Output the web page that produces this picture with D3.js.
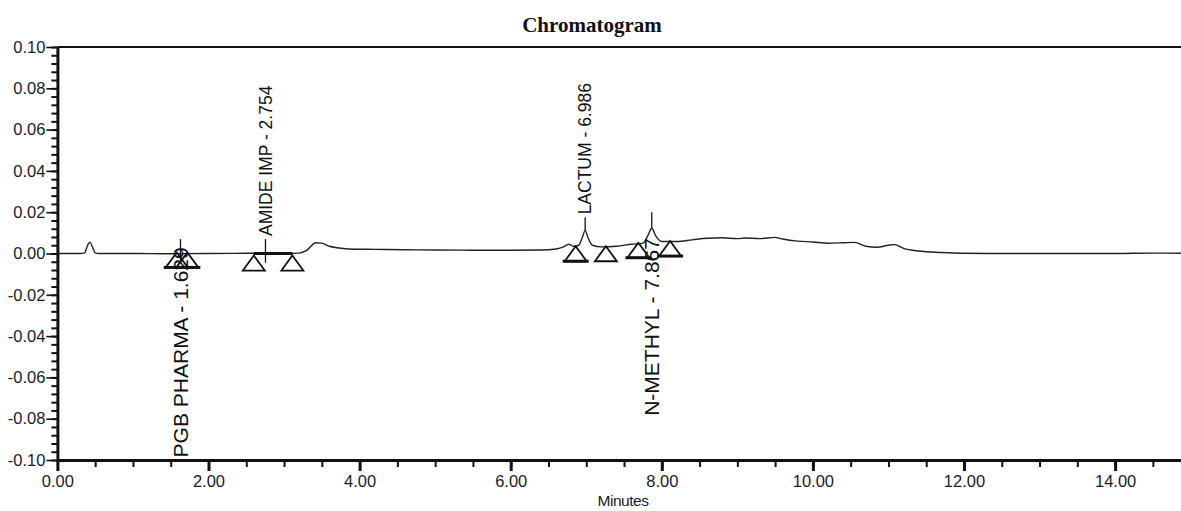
<!DOCTYPE html>
<html>
<head>
<meta charset="utf-8">
<script src="https://cdn.jsdelivr.net/npm/d3@7"></script>
<style>
  html, body { margin: 0; padding: 0; background: #fff; }
  svg { display: block; }
</style>
</head>
<body>
<svg id="chart" width="1181" height="511"></svg>
<script>
// ---------------- DATA ----------------
const traceTimes = [0.00, 0.30, 0.36, 0.40, 0.43, 0.46, 0.50, 0.55, 1.00, 1.50, 2.00, 2.50, 3.00, 3.20, 3.30, 3.42, 3.50, 3.60, 3.70, 3.85, 4.20, 4.60, 5.00, 5.50, 6.00, 6.40, 6.60, 6.70, 6.77, 6.83, 6.90, 6.95, 6.986, 7.02, 7.08, 7.20, 7.40, 7.60, 7.75, 7.82, 7.867, 7.92, 8.00, 8.20, 8.40, 8.60, 8.80, 9.00, 9.10, 9.30, 9.50, 9.60, 9.80, 10.00, 10.20, 10.40, 10.55, 10.70, 10.85, 11.00, 11.08, 11.20, 11.40, 11.70, 12.00, 12.50, 13.00, 14.00, 14.50, 15.00];
const traceValues = [0.0000, 0.0000, 0.0003, 0.0040, 0.0055, 0.0035, 0.0003, 0.0000, 0.0000, -0.0001, 0.0000, 0.0001, 0.0000, 0.0002, 0.0015, 0.0052, 0.0050, 0.0035, 0.0028, 0.0022, 0.0020, 0.0018, 0.0017, 0.0016, 0.0016, 0.0017, 0.0022, 0.0032, 0.0045, 0.0035, 0.0040, 0.0080, 0.0112, 0.0080, 0.0040, 0.0032, 0.0035, 0.0045, 0.0050, 0.0090, 0.0122, 0.0085, 0.0058, 0.0058, 0.0066, 0.0074, 0.0076, 0.0072, 0.0075, 0.0072, 0.0078, 0.0070, 0.0060, 0.0056, 0.0050, 0.0052, 0.0054, 0.0035, 0.0030, 0.0040, 0.0043, 0.0025, 0.0012, 0.0005, 0.0001, 0.0000, 0.0000, 0.0000, 0.0002, 0.0001];

// peaks
const peakNames = ["PGB PHARMA", "AMIDE IMP", "LACTUM", "N-METHYL"];
const peakTimes = [1.629, 2.754, 6.986, 7.867];
const peakLineTop = [0.0070, 0.0070, 0.0175, 0.0200];
const peakLineBottom = [-0.0045, -0.0045, 0.0112, 0.0122];
const peakLabelSide = ["below", "above", "above", "below"];

// start/end markers (triangles)
const markerTimes = [1.58, 1.72, 2.60, 3.11, 6.86, 7.26, 7.69, 8.11];
const markerValues = [0.0010, 0.0010, -0.0005, -0.0005, 0.0040, 0.0040, 0.0057, 0.0065];
const markerBold = [true, true, false, false, true, false, true, true];

// drawn baseline segment
const baselineSegTimes = [2.60, 3.11];
const baselineSegValues = [0.0000, 0.0000];

// axes
const yTicks = [-0.10, -0.08, -0.06, -0.04, -0.02, 0.00, 0.02, 0.04, 0.06, 0.08, 0.10];
const yTickLabels = ["-0.10", "-0.08", "-0.06", "-0.04", "-0.02", "0.00", "0.02", "0.04", "0.06", "0.08", "0.10"];
const xTicks = [0, 2, 4, 6, 8, 10, 12, 14];
const xTickLabels = ["0.00", "2.00", "4.00", "6.00", "8.00", "10.00", "12.00", "14.00"];
const titleText = "Chromatogram";
const xAxisTitle = "Minutes";

// ---------------- CHART ----------------
const svg = d3.select("#chart");
const plotLeft = 57.4, plotTop = 47, plotBottom = 460;
const x = d3.scaleLinear().domain([0, 15]).range([plotLeft, plotLeft + 15 * 75.55]);
const y = d3.scaleLinear().domain([-0.1, 0.1]).range([plotBottom, plotTop]);

const font = "Arial, 'Liberation Sans', sans-serif";
const ink = "#111";

// title
svg.append("text")
  .attr("x", 592).attr("y", 32)
  .attr("text-anchor", "middle")
  .attr("font-family", "'Liberation Serif', 'Times New Roman', serif")
  .attr("font-weight", "bold")
  .attr("font-size", 21)
  .attr("fill", "#111")
  .text(titleText);

// top frame line
svg.append("line")
  .attr("x1", x(0)).attr("x2", 1181)
  .attr("y1", y(0.1)).attr("y2", y(0.1))
  .attr("stroke", ink).attr("stroke-width", 2.2);

// minor ticks
const yMinor = d3.range(-0.1, 0.1001, 0.004).map(d => +d.toFixed(3));
const xMinor = d3.range(0, 15.01, 0.5).map(d => +d.toFixed(2));

const yMinorAxis = svg.append("g")
  .attr("transform", `translate(${x(0)},0)`)
  .call(d3.axisLeft(y).tickValues(yMinor).tickSize(6).tickFormat(""));
yMinorAxis.select(".domain").remove();
yMinorAxis.selectAll("line").attr("stroke", ink).attr("stroke-width", 2);

const xMinorAxis = svg.append("g")
  .attr("transform", `translate(0,${y(-0.1)})`)
  .call(d3.axisBottom(x).tickValues(xMinor).tickSize(7).tickFormat(""));
xMinorAxis.select(".domain").remove();
xMinorAxis.selectAll("line").attr("stroke", ink).attr("stroke-width", 2);

// major axes
const yAxis = svg.append("g")
  .attr("transform", `translate(${x(0)},0)`)
  .call(d3.axisLeft(y).tickValues(yTicks).tickSize(11).tickPadding(1)
    .tickFormat((d, i) => yTickLabels[i]).tickSizeOuter(0));
yAxis.select(".domain").attr("stroke", ink).attr("stroke-width", 3);
yAxis.selectAll(".tick line").attr("stroke", ink).attr("stroke-width", 1.6);
yAxis.selectAll(".tick text")
  .attr("font-family", font).attr("font-size", 16.5).attr("fill", "#1a1a2e");

const xAxis = svg.append("g")
  .attr("transform", `translate(0,${y(-0.1)})`)
  .call(d3.axisBottom(x).tickValues(xTicks).tickSize(11).tickPadding(4)
    .tickFormat((d, i) => xTickLabels[i]).tickSizeOuter(0));
xAxis.select(".domain").attr("stroke", ink).attr("stroke-width", 3);
xAxis.selectAll(".tick line").attr("stroke", ink).attr("stroke-width", 3);
xAxis.selectAll(".tick text")
  .attr("font-family", font).attr("font-size", 16.5).attr("fill", "#1a1a2e");

// x axis title
svg.append("text")
  .attr("x", 623).attr("y", 506)
  .attr("text-anchor", "middle")
  .attr("font-family", font).attr("font-size", 15.5)
  .attr("fill", "#1a1a2e")
  .attr("letter-spacing", -0.5)
  .text(xAxisTitle);

// trace
const traceData = traceTimes.map((t, i) => [t, traceValues[i]]);
svg.append("path")
  .datum(traceData)
  .attr("fill", "none")
  .attr("stroke", "#222")
  .attr("stroke-width", 1.4)
  .attr("d", d3.line().x(d => x(d[0])).y(d => y(d[1])).curve(d3.curveMonotoneX));

// drawn baseline segment
svg.append("line")
  .attr("x1", x(baselineSegTimes[0])).attr("x2", x(baselineSegTimes[1]))
  .attr("y1", y(baselineSegValues[0])).attr("y2", y(baselineSegValues[1]))
  .attr("stroke", ink).attr("stroke-width", 3);

// triangles
const triW = 22, triH = 15;
markerTimes.forEach((t, i) => {
  const cx = x(t), ay = y(markerValues[i]) + 1;
  svg.append("path")
    .attr("d", `M${cx},${ay} L${cx - triW / 2},${ay + triH} L${cx + triW / 2},${ay + triH} Z`)
    .attr("fill", "none").attr("stroke", ink).attr("stroke-width", 1.8)
    .attr("stroke-linejoin", "miter");
  if (markerBold[i]) {
    svg.append("line")
      .attr("x1", cx - triW / 2 - 2).attr("x2", cx + triW / 2 + 2)
      .attr("y1", ay + triH).attr("y2", ay + triH)
      .attr("stroke", ink).attr("stroke-width", 3);
  }
});

// peak marker lines and labels
peakTimes.forEach((t, i) => {
  const px = x(t);
  svg.append("line")
    .attr("x1", px).attr("x2", px)
    .attr("y1", y(peakLineTop[i])).attr("y2", y(peakLineBottom[i]))
    .attr("stroke", ink).attr("stroke-width", 1.3);
  const label = `${peakNames[i]} - ${t.toFixed(3)}`;
  const above = peakLabelSide[i] === "above";
  const fs = above ? 17.5 : 21;
  const bx = px + fs * 0.36;
  let ly, anchor;
  if (above) {
    ly = y(peakLineTop[i]) - 3; anchor = "start";
  } else {
    ly = (i === 0) ? y(0.0030) : y(0.0075); anchor = "end";
  }
  svg.append("text")
    .attr("transform", `translate(${bx},${ly}) rotate(-90)`)
    .attr("text-anchor", anchor)
    .attr("font-family", font).attr("font-size", fs)
    .attr("fill", "#111")
    .text(label);
});
</script>
</body>
</html>
